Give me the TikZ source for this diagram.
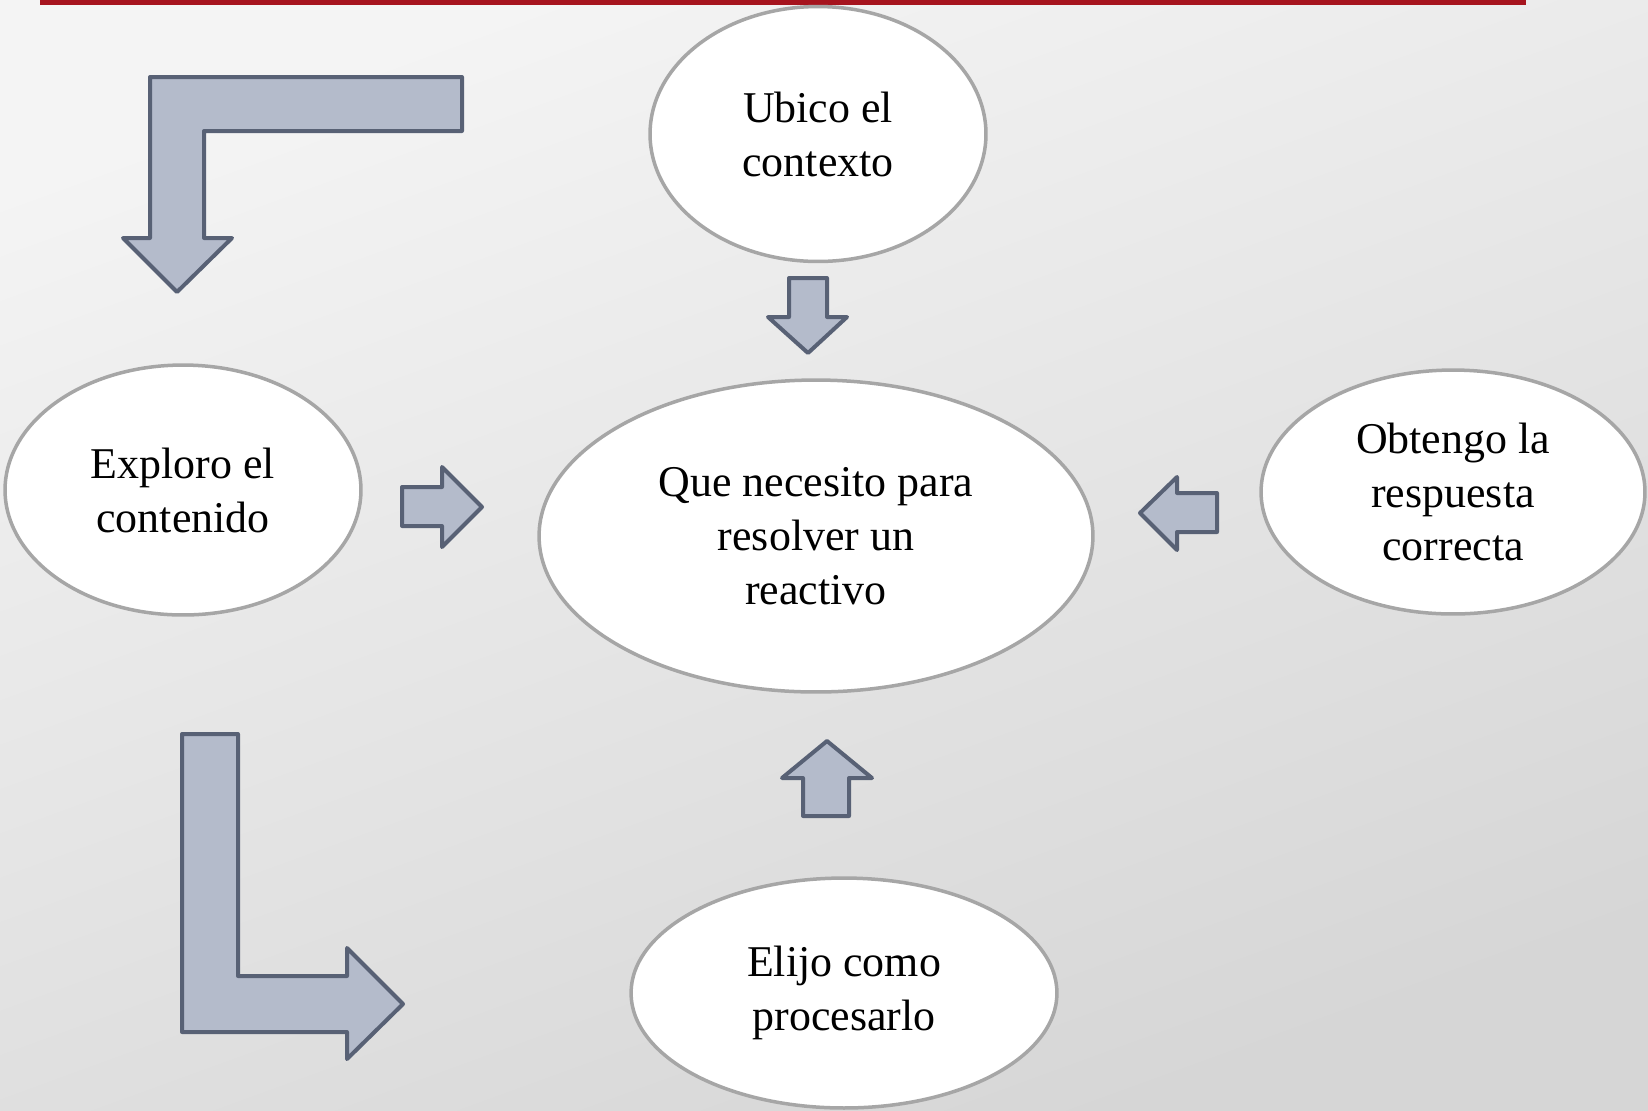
\documentclass[tikz,border=0pt]{standalone}
\usepackage{fontspec}
\setmainfont{Liberation Serif}
\usetikzlibrary{shapes.geometric}

\definecolor{arrowfill}{RGB}{180,187,203}
\definecolor{arrowline}{RGB}{88,97,117}
\definecolor{bubbleline}{RGB}{166,166,166}
\definecolor{titlered}{RGB}{166,20,30}
\definecolor{bgtop}{RGB}{244,244,244}
\definecolor{bgbottom}{RGB}{214,214,214}

\tikzset{
  bubble/.style={ellipse, draw=bubbleline, line width=0.07cm, fill=white,
    inner sep=0pt, align=center, font=\fontsize{25}{30.7}\selectfont},
  blockarrow/.style={draw=arrowline, fill=arrowfill, line width=0.08cm, line join=round},
}

\begin{document}
\begin{tikzpicture}[x=0.02cm,y=-0.02cm]
\shade[top color=bgtop, bottom color=bgbottom, shading angle=20] (0,0) rectangle (1648,1110);
\useasboundingbox (0,0) rectangle (1648,1110);
\draw[titlered, line width=0.1cm] (40,2) -- (1526,2);

\node[bubble, minimum width=6.72cm, minimum height=5.1cm] (contexto) at (818,134) {Ubico el\\contexto};
\node[bubble, minimum width=11.08cm, minimum height=6.24cm] (reactivo) at (816,536) {Que necesito para\\resolver un\\reactivo};
\node[bubble, minimum width=7.12cm, minimum height=5cm] (explorar) at (183,490) {Exploro el\\contenido};
\node[bubble, minimum width=7.68cm, minimum height=4.88cm] (respuesta) at (1453,492) {Obtengo la\\respuesta\\correcta};
\node[bubble, minimum width=8.52cm, minimum height=4.6cm] (procesar) at (844,993) {Elijo como\\procesarlo};

% flechas de bloque
\draw[blockarrow] (150,77) -- (462,77) -- (462,131) -- (204,131) -- (204,238) -- (232,238)
  -- (177,292) -- (123,238) -- (150,238) -- cycle;
\draw[blockarrow] (789,278) -- (827,278) -- (827,317) -- (847,317) -- (808,353) -- (768,317) -- (789,317) -- cycle;
\draw[blockarrow] (402,487) -- (442,487) -- (442,467) -- (482,507) -- (442,547) -- (442,526) -- (402,526) -- cycle;
\draw[blockarrow] (1217,493) -- (1177,493) -- (1177,477) -- (1140,513) -- (1177,550) -- (1177,532) -- (1217,532) -- cycle;
\draw[blockarrow] (803,816) -- (803,778) -- (782,778) -- (827,741) -- (872,778) -- (849,778) -- (849,816) -- cycle;
\draw[blockarrow] (182,734) -- (238,734) -- (238,976) -- (347,976) -- (347,948) -- (403,1004)
  -- (347,1059) -- (347,1032) -- (182,1032) -- cycle;

\end{tikzpicture}
\end{document}
